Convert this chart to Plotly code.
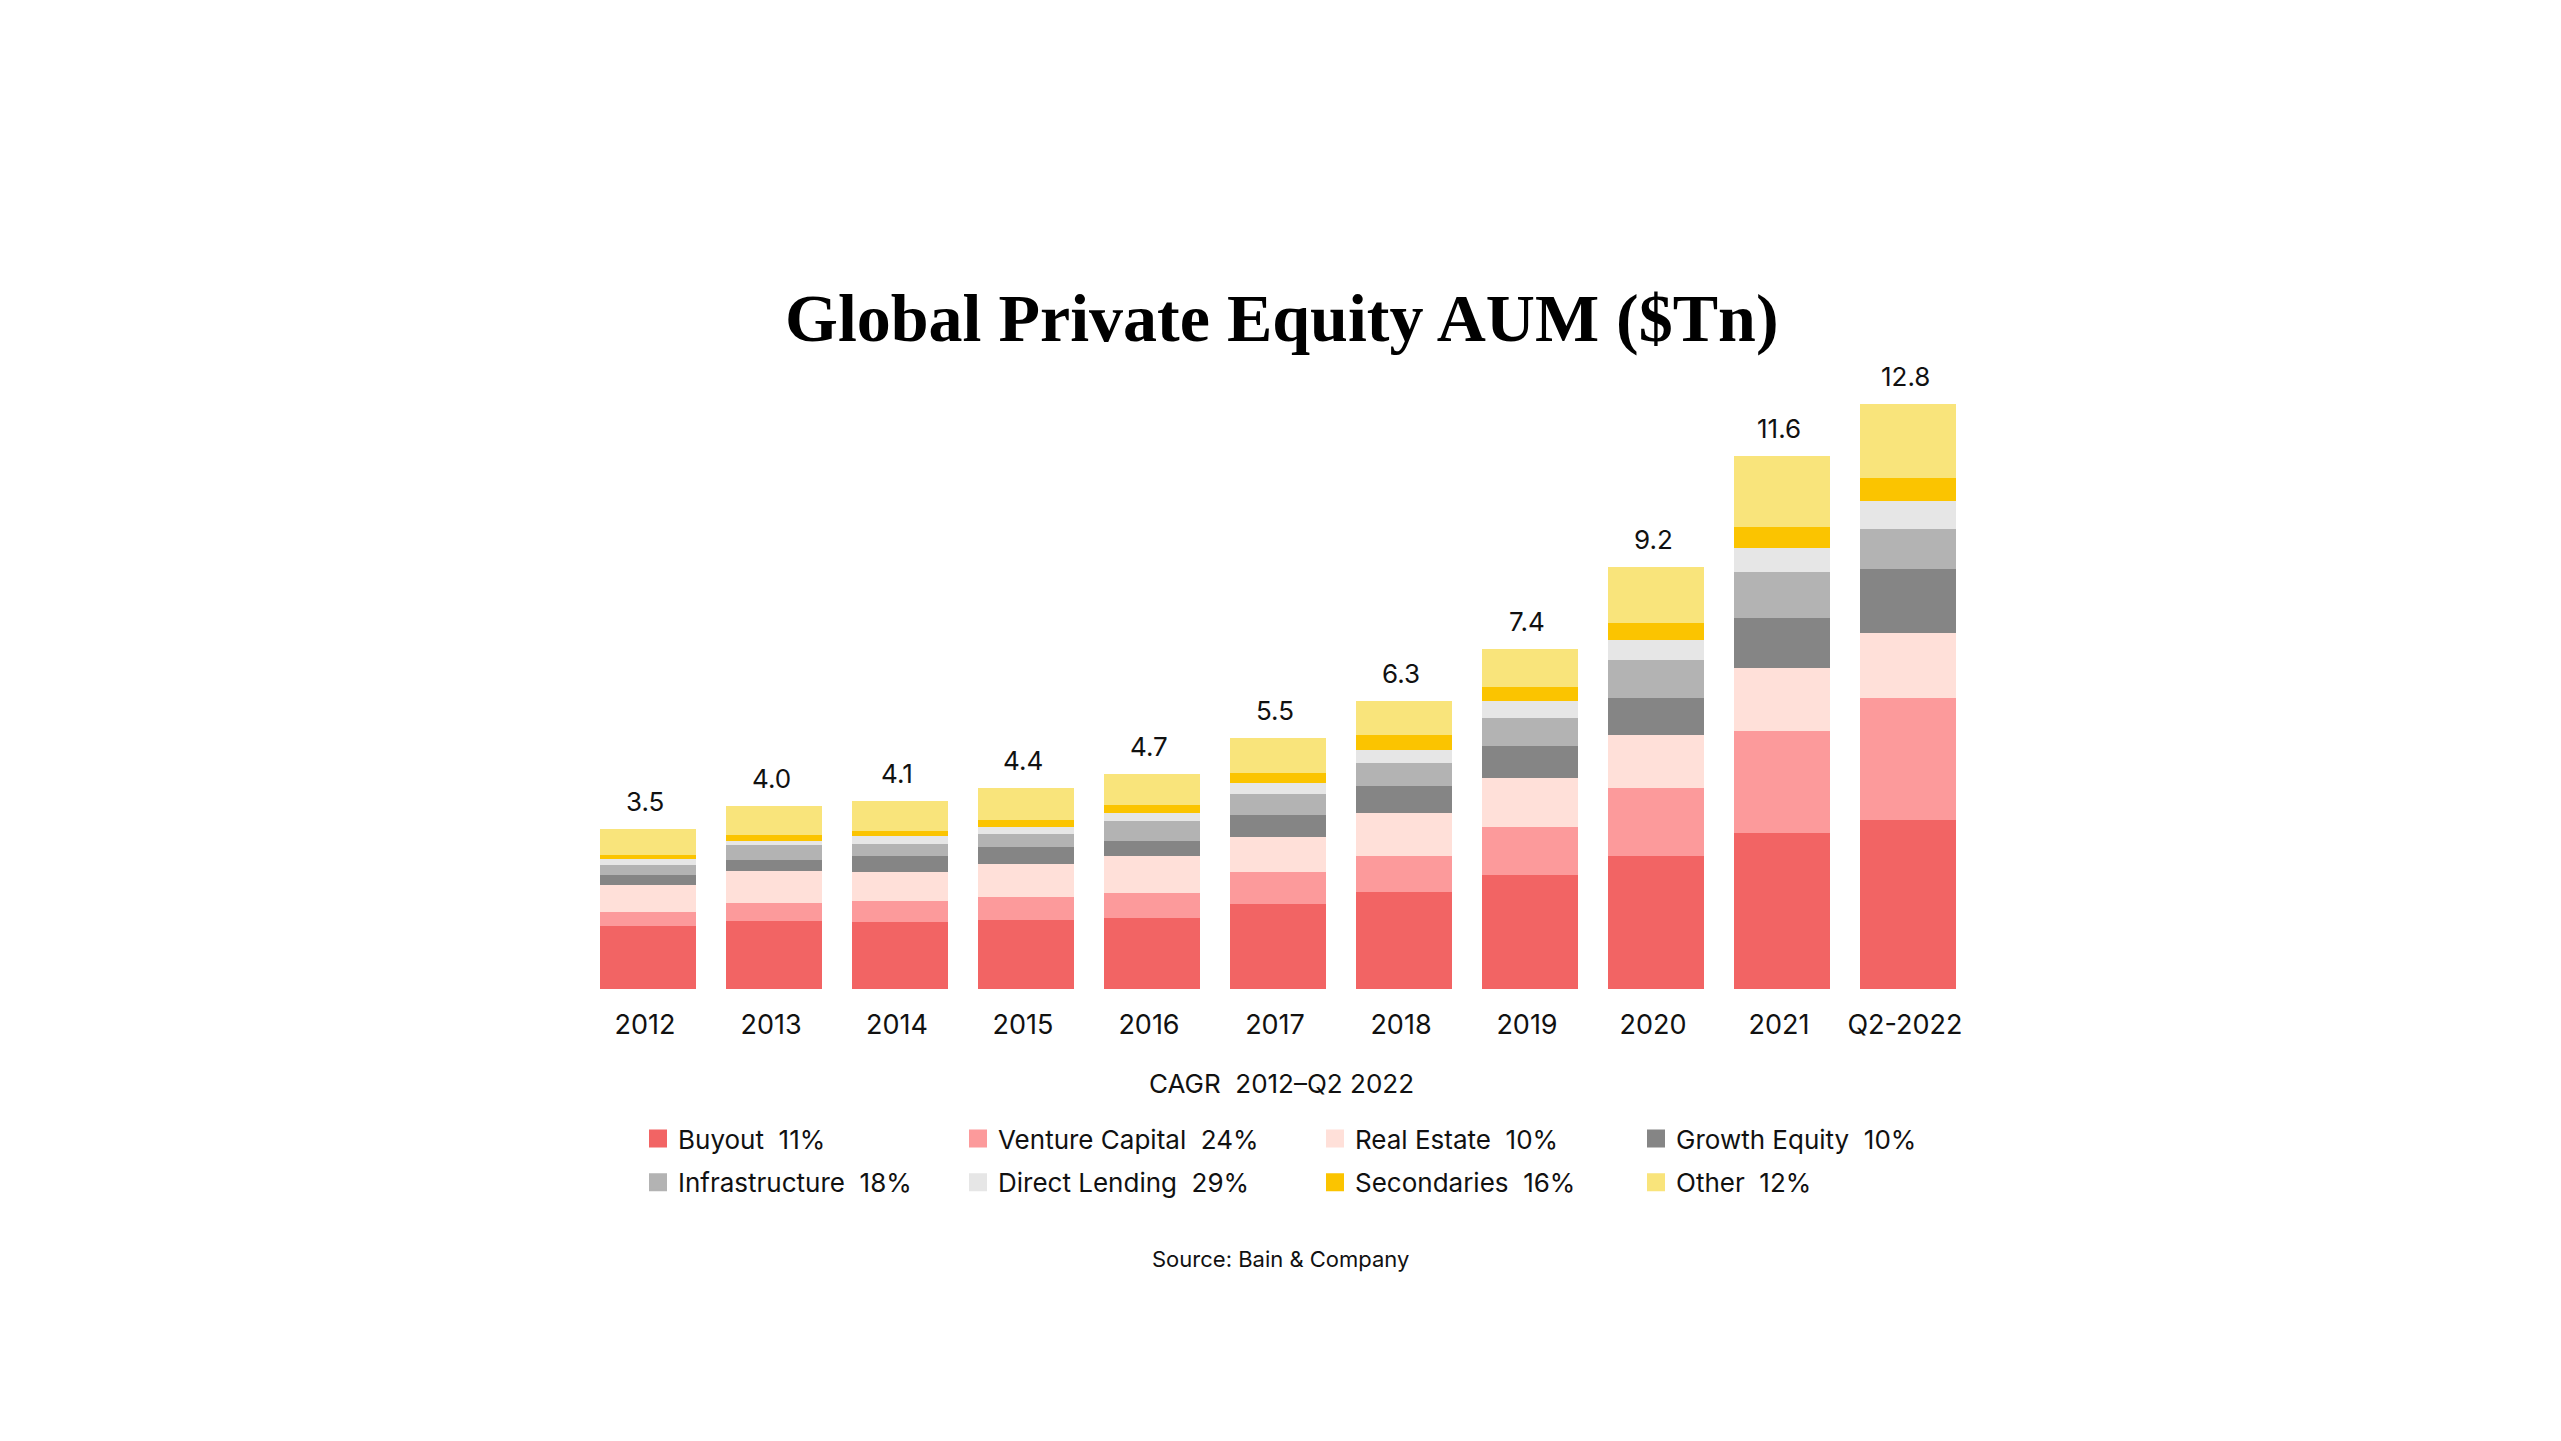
import plotly.graph_objects as go

# ---------------- data ----------------
categories = ["2012", "2013", "2014", "2015", "2016", "2017", "2018", "2019", "2020", "2021", "Q2-2022"]

buyout          = [1.38, 1.48, 1.47, 1.52, 1.56, 1.87, 2.12, 2.50, 2.92, 3.41, 3.70]
venture_capital = [0.31, 0.41, 0.46, 0.50, 0.55, 0.68, 0.80, 1.05, 1.49, 2.24, 2.66]
real_estate     = [0.59, 0.70, 0.63, 0.72, 0.80, 0.78, 0.94, 1.07, 1.14, 1.38, 1.43]
growth_equity   = [0.22, 0.24, 0.35, 0.37, 0.34, 0.48, 0.59, 0.69, 0.83, 1.10, 1.41]
infrastructure  = [0.22, 0.32, 0.26, 0.29, 0.42, 0.46, 0.49, 0.62, 0.81, 0.99, 0.86]
direct_lending  = [0.13, 0.10, 0.17, 0.15, 0.19, 0.24, 0.30, 0.38, 0.45, 0.53, 0.61]
secondaries     = [0.09, 0.13, 0.12, 0.15, 0.16, 0.22, 0.31, 0.29, 0.36, 0.47, 0.51]
other           = [0.56, 0.62, 0.66, 0.70, 0.69, 0.76, 0.76, 0.85, 1.23, 1.54, 1.63]

total_labels = ["3.5", "4.0", "4.1", "4.4", "4.7", "5.5", "6.3", "7.4", "9.2", "11.6", "12.8"]

series_names = ["Buyout", "Venture Capital", "Real Estate", "Growth Equity",
                "Infrastructure", "Direct Lending", "Secondaries", "Other"]
series_values = [buyout, venture_capital, real_estate, growth_equity,
                 infrastructure, direct_lending, secondaries, other]
series_cagr = ["11%", "24%", "10%", "10%", "18%", "29%", "16%", "12%"]
series_colors = ["#F26464", "#FC9A9B", "#FFE0D9", "#858585",
                 "#B3B3B3", "#E6E6E6", "#FBC400", "#F9E47B"]
series_legend = ["legend", "legend2", "legend3", "legend4",
                 "legend", "legend2", "legend3", "legend4"]

title_text = "Global Private Equity AUM ($Tn)"
cagr_text = "CAGR\u00a0 2012\u2013Q2 2022"
source_text = "Source: Bain &amp; Company"

# ---------------- layout geometry (pixels) ----------------
W, H = 2561, 1441
ML, MR, MT, MB = 585, 590, 360, 452
PW = W - ML - MR
PH = H - MT - MB
PX_PER_UNIT = 45.69
YMAX = PH / PX_PER_UNIT


def px_x(x):
    return (x - ML) / PW


def px_y(y):
    return (H - MB - y) / PH


FONT = "Inter"
TXT = "#111111"

fig = go.Figure()
for name, vals, col in zip(series_names, series_values, series_colors):
    fig.add_trace(go.Bar(
        x=categories, y=vals, name=name,
        marker=dict(color=col, line=dict(width=0)),
        showlegend=False, legendgroup=name,
        hoverinfo="skip",
    ))

# legend entries (larger square swatches than the default bar symbol)
for name, cagr, col, lg in zip(series_names, series_cagr, series_colors, series_legend):
    fig.add_trace(go.Scatter(
        x=[None], y=[None], mode="markers",
        name=f"{name}\u00a0 {cagr}",
        marker=dict(symbol="square", size=16, color=col,
                    line=dict(color=col, width=2)),
        legend=lg, legendgroup=name, showlegend=True,
        hoverinfo="skip",
    ))

totals = [sum(v) for v in zip(*series_values)]
annotations = []
for i, (tot, lab) in enumerate(zip(totals, total_labels)):
    annotations.append(dict(
        x=i, y=tot, xref="x", yref="y", text=lab, showarrow=False,
        xanchor="center", yanchor="bottom", yshift=10, xshift=-3,
        font=dict(family=FONT, size=26, color=TXT),
    ))

annotations.append(dict(
    x=px_x(1282), y=px_y(318), xref="paper", yref="paper", text=title_text,
    showarrow=False, xanchor="center", yanchor="middle",
    font=dict(family="Liberation Serif", size=68, color="#000000", weight="bold"),
))
annotations.append(dict(
    x=px_x(1281), y=px_y(1083), xref="paper", yref="paper", text=cagr_text,
    showarrow=False, xanchor="center", yanchor="middle",
    font=dict(family=FONT, size=26, color=TXT),
))
annotations.append(dict(
    x=px_x(1280), y=px_y(1259), xref="paper", yref="paper", text=source_text,
    showarrow=False, xanchor="center", yanchor="middle",
    font=dict(family=FONT, size=22, color=TXT),
))

legend_cols = [638, 958, 1315, 1636]
legend_top = 1115


def legend_cfg(xpx):
    return dict(
        x=px_x(xpx), xanchor="left", y=px_y(legend_top), yanchor="top",
        orientation="v", traceorder="grouped", tracegroupgap=7,
        bgcolor="rgba(0,0,0,0)", borderwidth=0,
        font=dict(family=FONT, size=26, color=TXT),
    )


fig.update_layout(
    width=W, height=H, autosize=False,
    margin=dict(l=ML, r=MR, t=MT, b=MB, pad=0),
    paper_bgcolor="#FFFFFF", plot_bgcolor="#FFFFFF",
    barmode="stack", bargap=0.238,
    font=dict(family=FONT, color=TXT),
    showlegend=True,
    legend=legend_cfg(legend_cols[0]),
    legend2=legend_cfg(legend_cols[1]),
    legend3=legend_cfg(legend_cols[2]),
    legend4=legend_cfg(legend_cols[3]),
    annotations=annotations,
    xaxis=dict(
        type="category", categoryorder="array", categoryarray=categories,
        range=[-0.5, len(categories) - 0.5],
        showgrid=False, zeroline=False, showline=False, ticks="",
        tickfont=dict(family=FONT, size=27, color=TXT),
        ticklabelstandoff=17, ticklabelshift=-3,
        fixedrange=True,
    ),
    yaxis=dict(
        range=[0, YMAX], visible=False, showgrid=False, zeroline=False,
        fixedrange=True,
    ),
)

fig.write_html(
    "out.html",
    config={"displayModeBar": False},
    post_script="document.body.style.margin='0';document.body.style.overflow='hidden';",
)
